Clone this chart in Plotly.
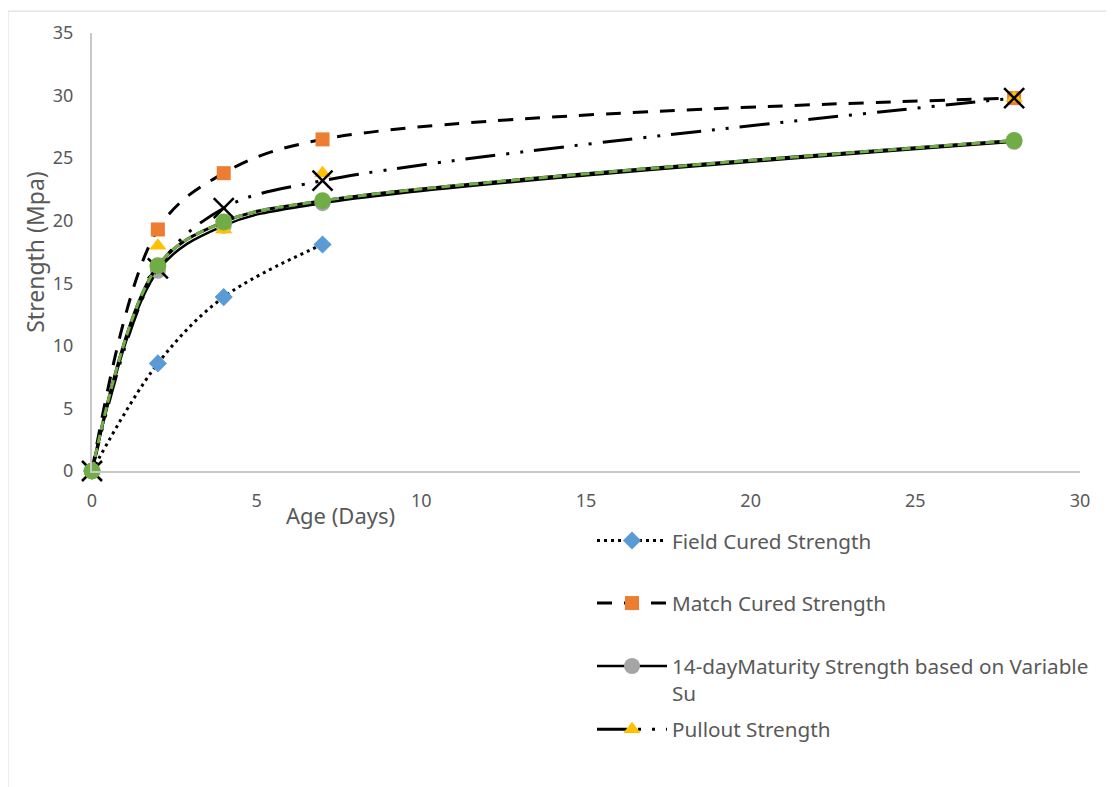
import plotly.graph_objects as go

# ---- data ----
age_field = [0, 2, 4, 7]
field_cured = [0, 8.6, 13.9, 18.1]

age = [0, 2, 4, 7, 28]
match_cured = [0, 19.3, 23.8, 26.5, 29.8]
maturity_14day = [0, 16.0, 19.6, 21.4, 26.3]
pullout = [0, 18.0, 19.3, 23.8, 29.8]
series_x = [0, 16.2, 21.0, 23.2, 29.8]
series_green = [0, 16.4, 19.9, 21.6, 26.4]

names = ["Field Cured Strength", "Match Cured Strength",
         "14-dayMaturity Strength based on Variable<br>Su", "Pullout Strength"]

x_ticks = [0, 5, 10, 15, 20, 25, 30]
y_ticks = [0, 5, 10, 15, 20, 25, 30, 35]

FONT = "Noto Sans"
GREY_TXT = "#595959"
DASHDOTDOT = "30px,11px,3px,11px,3px,11px"

fig = go.Figure()

# Field cured
fig.add_trace(go.Scatter(
    x=age_field, y=field_cured, name=names[0], mode="lines+markers",
    line=dict(color="black", width=3, dash="3px,4px", shape="spline"),
    marker=dict(symbol="diamond", color="#5B9BD5", size=14),
    legend="legend", cliponaxis=False))

# Match cured
fig.add_trace(go.Scatter(
    x=age, y=match_cured, name=names[1], mode="lines+markers",
    line=dict(color="black", width=3, dash="15px,12px", shape="spline"),
    marker=dict(symbol="square", color="#ED7D31", size=14),
    legend="legend2", cliponaxis=False))

# 14-day maturity
fig.add_trace(go.Scatter(
    x=age, y=maturity_14day, name=names[2], mode="lines+markers",
    line=dict(color="black", width=2.5, shape="spline"),
    marker=dict(symbol="circle", color="#A5A5A5", size=16),
    legend="legend3", cliponaxis=False))

# Pullout markers
fig.add_trace(go.Scatter(
    x=age, y=pullout, name=names[3], mode="markers",
    marker=dict(symbol="triangle-up", color="#FFC000", size=15),
    showlegend=False, cliponaxis=False))
# Pullout legend entry
fig.add_trace(go.Scatter(
    x=[None], y=[None], name=names[3], mode="lines+markers",
    line=dict(color="black", width=3, dash=DASHDOTDOT),
    marker=dict(symbol="triangle-up", color="#FFC000", size=15),
    legend="legend4"))

# X series (legend entry cut off in original)
fig.add_trace(go.Scatter(
    x=age, y=series_x, name="Series 5", mode="lines+markers",
    line=dict(color="black", width=3, dash=DASHDOTDOT, shape="spline"),
    marker=dict(symbol="x-thin", size=20, line=dict(color="black", width=2.5)),
    showlegend=False, cliponaxis=False))

# Green series: black solid line with green dashes on top
fig.add_trace(go.Scatter(
    x=age, y=series_green, mode="lines", showlegend=False,
    line=dict(color="black", width=3, shape="spline"), hoverinfo="skip",
    cliponaxis=False))
fig.add_trace(go.Scatter(
    x=age, y=series_green, name="Series 6", mode="lines+markers",
    line=dict(color="#70AD47", width=3, dash="9px,5px", shape="spline"),
    marker=dict(symbol="circle", color="#70AD47", size=17),
    showlegend=False, cliponaxis=False))

# page body has an 8px margin; positions below are in window pixels
OFF = 8
W, H = 1114 - OFF, 787 - OFF
PL, PR, PT, PB = 92, 1080, 30, 471   # plot area in window pixels
L, R, T, B = PL - OFF, W - (PR - OFF), PT - OFF, H - (PB - OFF)
pw, ph = W - L - R, H - T - B


def py(p):
    return (PB - p) / ph


def px(p):
    return (p - PL) / pw


legend_common = dict(
    x=px(592), xanchor="left", bgcolor="rgba(0,0,0,0)",
    font=dict(family=FONT, size=20.7, color=GREY_TXT), itemwidth=70,
    borderwidth=0)

fig.update_layout(
    width=W, height=H,
    margin=dict(l=L, r=R, t=T, b=B),
    paper_bgcolor="white", plot_bgcolor="white",
    font=dict(family=FONT, color=GREY_TXT),
    legend=dict(**legend_common, y=py(541), yanchor="middle"),
    legend2=dict(**legend_common, y=py(604), yanchor="middle"),
    legend3=dict(**legend_common, y=py(681), yanchor="middle",
                 valign="top"),
    legend4=dict(**legend_common, y=py(731), yanchor="middle"),
    xaxis=dict(range=[0, 30], tickvals=x_ticks, showgrid=False, zeroline=False,
               showline=True, linecolor="#C8C8C8", linewidth=2,
               tickfont=dict(family=FONT, size=18, color=GREY_TXT),
               ticks="", ticklabelstandoff=12),
    yaxis=dict(range=[0, 35], tickvals=y_ticks, showgrid=False, zeroline=False,
               showline=True, linecolor="#C8C8C8", linewidth=2,
               tickfont=dict(family=FONT, size=18, color=GREY_TXT),
               ticks="", ticklabelstandoff=13,
               title=dict(text="Strength (Mpa)", standoff=2,
                          font=dict(family=FONT, size=23, color=GREY_TXT))),
    annotations=[dict(text="Age (Days)", xref="paper", yref="paper",
                      x=px(340), y=py(515),
                      xanchor="center", yanchor="middle", showarrow=False,
                      font=dict(family=FONT, size=22, color=GREY_TXT))],
    shapes=[dict(type="rect", xref="paper", yref="paper",
                 x0=px(8), x1=px(1111),
                 y0=py(795), y1=py(8),
                 line=dict(color="#D9D9D9", width=1), layer="below")],
)

fig.write_html("out.html")
